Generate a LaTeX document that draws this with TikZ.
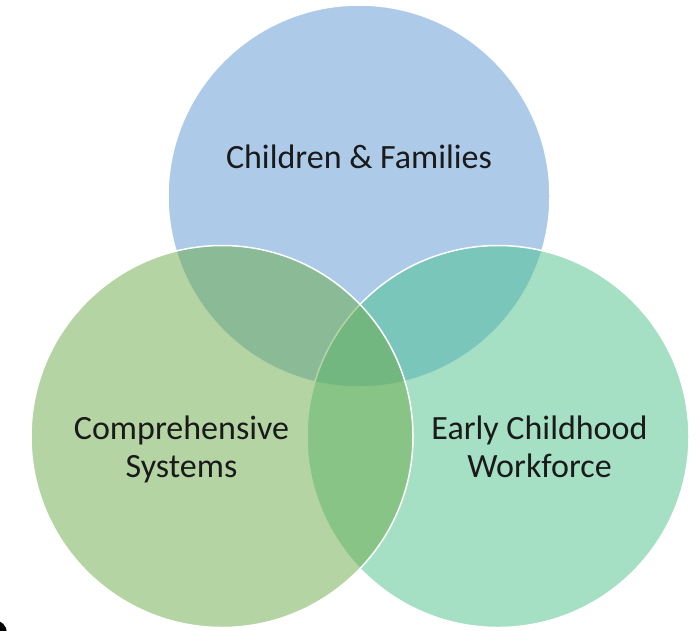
\documentclass[tikz,border=0pt]{standalone}
\usepackage{fontspec}
\setmainfont{Carlito}
\usetikzlibrary{positioning,calc}
\definecolor{famblue}{RGB}{91,151,211}
\definecolor{sysgreen}{RGB}{107,169,71}
\definecolor{workteal}{RGB}{75,193,139}
\definecolor{venntext}{RGB}{26,26,26}

\begin{document}
\begin{tikzpicture}[x=1pt,y=-1pt, line join=round,
  venn/.style={draw=white, line width=1.5pt, fill opacity=0.5},
  lbl/.style={text=venntext, font=\fontsize{34}{38}\selectfont, align=center, anchor=base, inner sep=0pt}]
\useasboundingbox (0,0) rectangle (700,630);
\coordinate (F) at (359,196);
\coordinate (S) at (222,436.5);
\coordinate (W) at (498,436.5);
\draw[venn,fill=famblue]  (F) circle[radius=191];
\draw[venn,fill=workteal] (W) circle[radius=191];
\draw[venn,fill=sysgreen] (S) circle[radius=191];
\node[lbl] (famtext)  at (359,168)   {Children \& Families};
\node[lbl] (systext)  at (181.5,477) {Comprehensive\\Systems};
\node[lbl] (worktext) at (539.5,477) {Early Childhood\\Workforce};
\fill[black] (-6,633) circle[radius=13];
\end{tikzpicture}
\end{document}
